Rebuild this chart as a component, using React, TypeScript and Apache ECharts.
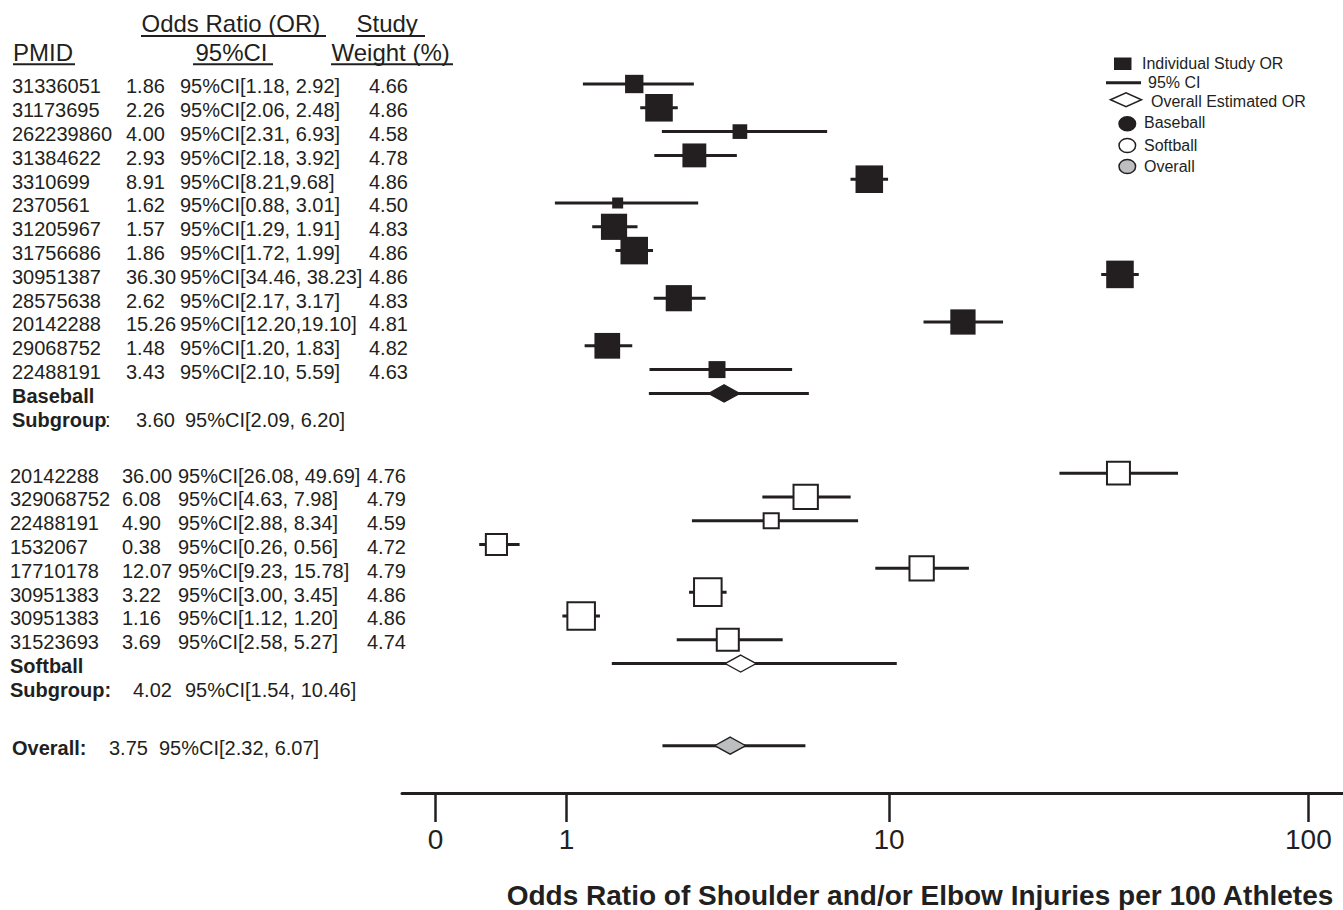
import React, { useEffect, useRef } from "react";
import * as echarts from "echarts";

// ---------------- Data ----------------
const baseballPmid = ["31336051", "31173695", "262239860", "31384622", "3310699", "2370561", "31205967", "31756686", "30951387", "28575638", "20142288", "29068752", "22488191"];
const baseballOR = [1.86, 2.26, 4.0, 2.93, 8.91, 1.62, 1.57, 1.86, 36.3, 2.62, 15.26, 1.48, 3.43];
const baseballLow = [1.18, 2.06, 2.31, 2.18, 8.21, 0.88, 1.29, 1.72, 34.46, 2.17, 12.2, 1.2, 2.1];
const baseballHigh = [2.92, 2.48, 6.93, 3.92, 9.68, 3.01, 1.91, 1.99, 38.23, 3.17, 19.1, 1.83, 5.59];
const baseballWeight = [4.66, 4.86, 4.58, 4.78, 4.86, 4.5, 4.83, 4.86, 4.86, 4.83, 4.81, 4.82, 4.63];
const baseballCompactCI = [4, 10]; // rows printed without a space after the comma

const softballPmid = ["20142288", "329068752", "22488191", "1532067", "17710178", "30951383", "30951383", "31523693"];
const softballOR = [36.0, 6.08, 4.9, 0.38, 12.07, 3.22, 1.16, 3.69];
const softballLow = [26.08, 4.63, 2.88, 0.26, 9.23, 3.0, 1.12, 2.58];
const softballHigh = [49.69, 7.98, 8.34, 0.56, 15.78, 3.45, 1.2, 5.27];
const softballWeight = [4.76, 4.79, 4.59, 4.72, 4.79, 4.86, 4.86, 4.74];

const subgroupNames = ["Baseball", "Softball"];
const subgroupOR = [3.6, 4.02];
const subgroupLow = [2.09, 1.54];
const subgroupHigh = [6.2, 10.46];

const overallOR = 3.75;
const overallLow = 2.32;
const overallHigh = 6.07;

const axisTickValues = [0, 1, 10, 100];
const axisTitle = "Odds Ratio of Shoulder and/or Elbow Injuries per 100 Athletes";
const legendLabels = ["Individual Study OR", "95% CI", "Overall Estimated OR", "Baseball", "Softball", "Overall"];

// ---------------- Styling / layout ----------------
const INK = "#231f20";
const GRAY = "#bcbec0";
const FONT = '"Liberation Sans", Arial, Helvetica, sans-serif';

const tx = (v: number) => Math.log10(v + 1);
const fmt = (v: number) => v.toFixed(2);
const ciText = (lo: number, hi: number, compact = false) => `95%CI[${fmt(lo)},${compact ? "" : " "}${fmt(hi)}]`;
const sqSize = (w: number) => 11 + (w - 4.5) * 46;
const STUB = 5; // CI whisker always visible beyond a square

const GROUP_GAP = 3.35;
const OVERALL_GAP = 3.45;
const bbRows = baseballOR.map((_, i) => i);
const bbSumRow = baseballOR.length;
const sbStart = bbSumRow + GROUP_GAP;
const sbRows = softballOR.map((_, i) => sbStart + i);
const sbSumRow = sbStart + softballOR.length;
const ovRow = sbSumRow + OVERALL_GAP;
const TEXT_DY = 2.5;

type Cell = { text: string; x: number; bold?: boolean };
type TRow = { row: number; cells: Cell[] };

const tableRows: TRow[] = [
  ...baseballPmid.map((p, i) => ({
    row: bbRows[i],
    cells: [
      { text: p, x: 12 },
      { text: fmt(baseballOR[i]), x: 126 },
      { text: ciText(baseballLow[i], baseballHigh[i], baseballCompactCI.includes(i)), x: 180 },
      { text: fmt(baseballWeight[i]), x: 369 },
    ],
  })),
  { row: bbSumRow, cells: [{ text: subgroupNames[0], x: 12, bold: true }] },
  {
    row: bbSumRow + 1,
    cells: [
      { text: "Subgroup", x: 12, bold: true },
      { text: ":", x: 105 },
      { text: fmt(subgroupOR[0]), x: 136 },
      { text: ciText(subgroupLow[0], subgroupHigh[0]), x: 185 },
    ],
  },
  ...softballPmid.map((p, i) => ({
    row: sbRows[i],
    cells: [
      { text: p, x: 10 },
      { text: fmt(softballOR[i]), x: 122 },
      { text: ciText(softballLow[i], softballHigh[i]), x: 178 },
      { text: fmt(softballWeight[i]), x: 367 },
    ],
  })),
  { row: sbSumRow, cells: [{ text: subgroupNames[1], x: 10, bold: true }] },
  {
    row: sbSumRow + 1,
    cells: [
      { text: "Subgroup:", x: 10, bold: true },
      { text: fmt(subgroupOR[1]), x: 133 },
      { text: ciText(subgroupLow[1], subgroupHigh[1]), x: 185 },
    ],
  },
  {
    row: ovRow,
    cells: [
      { text: "Overall:", x: 12, bold: true },
      { text: fmt(overallOR), x: 109 },
      { text: ciText(overallLow, overallHigh), x: 159 },
    ],
  },
];

// [low, high, row, estimate, marker size]
const ciData = [
  ...baseballOR.map((v, i) => [tx(baseballLow[i]), tx(baseballHigh[i]), bbRows[i], tx(v), sqSize(baseballWeight[i])]),
  [tx(subgroupLow[0]), tx(subgroupHigh[0]), bbSumRow, tx(subgroupOR[0]), 0],
  ...softballOR.map((v, i) => [tx(softballLow[i]), tx(softballHigh[i]), sbRows[i], tx(v), sqSize(softballWeight[i])]),
  [tx(subgroupLow[1]), tx(subgroupHigh[1]), sbSumRow, tx(subgroupOR[1]), 0],
  [tx(overallLow), tx(overallHigh), ovRow, tx(overallOR), 0],
];

const txt = (text: string, x: number, y: number, size: number, bold = false, align = "left") => ({
  type: "text",
  x,
  y,
  silent: true,
  style: {
    text,
    fill: INK,
    fontSize: size,
    fontFamily: FONT,
    fontWeight: bold ? "bold" : "normal",
    align,
    verticalAlign: "middle",
    textAlign: align,
    textVerticalAlign: "middle",
  },
});
const uline = (x1: number, x2: number, y: number) => ({
  type: "line",
  silent: true,
  shape: { x1, y1: y, x2, y2: y },
  style: { stroke: INK, lineWidth: 2 },
});

export default function App() {
  const ref = useRef<HTMLDivElement>(null);
  useEffect(() => {
    if (!ref.current) return;
    const chart = echarts.init(ref.current, null, { renderer: "svg" });
    const ticksT = axisTickValues.map(tx);
    const option: any = {
      animation: false,
      backgroundColor: "#ffffff",
      grid: { left: 402, right: 0, top: 55.44, bottom: 117, containLabel: false, outerBoundsMode: "none" },
      xAxis: {
        type: "value",
        min: -33.5 / 435.5,
        max: 907.5 / 435.5,
        axisLine: { show: true, onZero: false, lineStyle: { color: INK, width: 3 } },
        axisTick: { show: true, customValues: ticksT, length: 29, lineStyle: { color: INK, width: 2.5 } },
        axisLabel: {
          customValues: ticksT,
          formatter: (v: number) => String(Math.round(Math.pow(10, v) - 1)),
          margin: 32,
          fontSize: 28,
          color: INK,
          fontFamily: FONT,
        },
        splitLine: { show: false },
      },
      yAxis: { type: "value", inverse: true, min: -1.2, max: 29.79, show: false },
      series: [
        {
          type: "custom",
          name: "95% CI",
          silent: true,
          z: 1,
          clip: false,
          data: ciData,
          encode: { x: [0, 1, 3], y: 2 },
          renderItem: (params: any, api: any) => {
            const a = api.coord([api.value(0), api.value(2)]);
            const b = api.coord([api.value(1), api.value(2)]);
            const c = api.coord([api.value(3), api.value(2)]);
            const size = api.value(4);
            const half = size > 0 ? size / 2 + STUB : 0;
            const x1 = Math.min(a[0], c[0] - half);
            const x2 = Math.max(b[0], c[0] + half);
            return {
              type: "line",
              shape: { x1, y1: a[1], x2, y2: b[1] },
              style: { stroke: INK, lineWidth: 3 },
            };
          },
        },
        {
          type: "scatter",
          name: "Baseball studies",
          silent: true,
          z: 3,
          symbol: "rect",
          symbolSize: (val: number[]) => sqSize(val[2]),
          itemStyle: { color: INK, opacity: 1 },
          data: baseballOR.map((v, i) => [tx(v), bbRows[i], baseballWeight[i]]),
        },
        {
          type: "scatter",
          name: "Softball studies",
          silent: true,
          z: 3,
          symbol: "rect",
          symbolSize: (val: number[]) => sqSize(val[2]),
          itemStyle: { color: "#ffffff", borderColor: INK, borderWidth: 2, opacity: 1 },
          data: softballOR.map((v, i) => [tx(v), sbRows[i], softballWeight[i]]),
        },
        {
          type: "scatter",
          name: "Pooled",
          silent: true,
          z: 3,
          symbol: "diamond",
          symbolSize: [31, 17],
          itemStyle: { opacity: 1 },
          data: [
            { value: [tx(subgroupOR[0]), bbSumRow], itemStyle: { color: INK, borderColor: INK, borderWidth: 1.5, opacity: 1 } },
            { value: [tx(subgroupOR[1]), sbSumRow], itemStyle: { color: "#ffffff", borderColor: INK, borderWidth: 1.5, opacity: 1 } },
            { value: [tx(overallOR), ovRow], itemStyle: { color: GRAY, borderColor: INK, borderWidth: 1.5, opacity: 1 } },
          ],
        },
        {
          type: "custom",
          name: "table",
          silent: true,
          clip: false,
          z: 5,
          data: tableRows.map((r) => [0, r.row]),
          encode: { x: 0, y: 1 },
          renderItem: (params: any, api: any) => {
            const r = tableRows[params.dataIndex];
            const y = api.coord([0, api.value(1)])[1] + TEXT_DY;
            return {
              type: "group",
              children: r.cells.map((c) => txt(c.text, c.x, y, 20, !!c.bold)),
            };
          },
        },
      ],
      graphic: [
        // headers
        txt("Odds Ratio (OR)", 141.5, 23, 24),
        uline(141, 326, 36),
        txt("Study", 356.5, 23, 24),
        uline(356, 425, 36),
        txt("PMID", 13, 52, 24),
        uline(13, 75, 64.3),
        txt("95%CI", 195.5, 52, 24),
        uline(193, 273, 64.3),
        txt("Weight (%)", 331.5, 52, 24),
        uline(331, 453, 64.3),
        // legend
        { type: "rect", silent: true, shape: { x: 1114, y: 57.5, width: 17.5, height: 12.5 }, style: { fill: INK } },
        txt(legendLabels[0], 1142, 63.5, 16),
        { type: "line", silent: true, shape: { x1: 1106, y1: 82.7, x2: 1141, y2: 82.7 }, style: { stroke: INK, lineWidth: 3 } },
        txt(legendLabels[1], 1148, 82, 16),
        {
          type: "polygon",
          silent: true,
          shape: { points: [[1110.5, 99.7], [1126, 92.8], [1141.5, 99.7], [1126, 106.6]] },
          style: { fill: "#ffffff", stroke: INK, lineWidth: 1.5 },
        },
        txt(legendLabels[2], 1151, 101.5, 16),
        { type: "ellipse", silent: true, shape: { cx: 1127.3, cy: 123.7, rx: 8.3, ry: 7 }, style: { fill: INK, stroke: INK, lineWidth: 1.5 } },
        txt(legendLabels[3], 1144, 122.5, 16),
        { type: "ellipse", silent: true, shape: { cx: 1127.3, cy: 145.5, rx: 8.3, ry: 7 }, style: { fill: "#ffffff", stroke: INK, lineWidth: 1.5 } },
        txt(legendLabels[4], 1144, 145, 16),
        { type: "ellipse", silent: true, shape: { cx: 1127.3, cy: 166.5, rx: 8.3, ry: 7 }, style: { fill: GRAY, stroke: INK, lineWidth: 1.5 } },
        txt(legendLabels[5], 1144, 166, 16),
        // axis title
        txt(axisTitle, 920, 895, 28, true, "center"),
      ],
    };
    chart.setOption(option);
    return () => chart.dispose();
  }, []);
  return (
    <div
      ref={ref}
      style={{ position: "absolute", left: 0, top: 0, width: 1343, height: 910, background: "#ffffff" }}
    />
  );
}
